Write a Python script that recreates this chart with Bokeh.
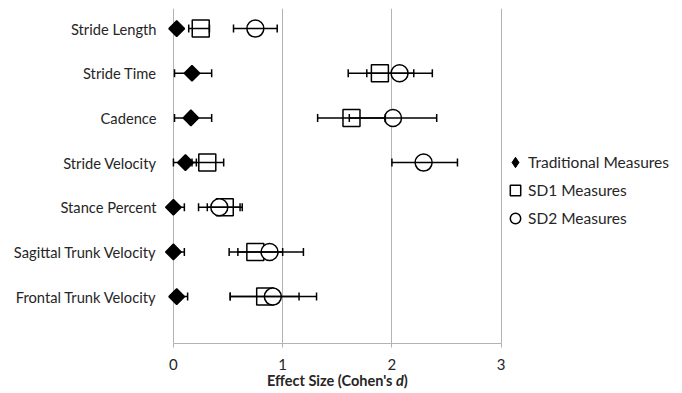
from bokeh.plotting import figure
from bokeh.models import (ColumnDataSource, Whisker, TeeHead, FixedTicker, Legend,
                          LegendItem, Range1d, Div)
from bokeh.layouts import column
from bokeh.embed import file_html
from bokeh.resources import INLINE
import numpy as np

# ---------------- data ----------------
categories = ["Stride Length", "Stride Time", "Cadence", "Stride Velocity",
              "Stance Percent", "Sagittal Trunk Velocity", "Frontal Trunk Velocity"]
trad = [0.03, 0.17, 0.16, 0.11, 0.00, 0.00, 0.03]
trad_lo = [0.00, 0.01, 0.01, 0.00, 0.00, 0.00, 0.00]
trad_hi = [0.06, 0.35, 0.35, 0.21, 0.10, 0.10, 0.13]
sd1 = [0.25, 1.89, 1.63, 0.31, 0.47, 0.75, 0.84]
sd1_lo = [0.14, 1.60, 1.32, 0.17, 0.31, 0.51, 0.52]
sd1_hi = [0.33, 2.20, 1.94, 0.46, 0.63, 1.00, 1.15]
sd2 = [0.75, 2.07, 2.01, 2.29, 0.42, 0.88, 0.91]
sd2_lo = [0.55, 1.77, 1.61, 2.00, 0.23, 0.59, 0.52]
sd2_hi = [0.95, 2.37, 2.41, 2.60, 0.61, 1.19, 1.31]
x_ticks = [0, 1, 2, 3]
series_names = ["Traditional Measures", "SD1 Measures", "SD2 Measures"]
x_title = "Effect Size (Cohen's <i>d</i>)"

FONT = "Lato"
TXT = "#262626"
GRID = "#b3b3b3"

ypos = list(range(len(categories), 0, -1))  # 7..1 top to bottom

p = figure(width=682, height=374, output_backend="svg", toolbar_location=None,
           x_range=Range1d(-0.1, 4.66), y_range=Range1d(-0.05, 7.45),
           min_border_left=162, min_border_right=0, min_border_top=8,
           min_border_bottom=31)
p.outline_line_color = None
p.background_fill_color = "white"

# axes
p.xaxis.ticker = FixedTicker(ticks=x_ticks)
p.xaxis.bounds = (x_ticks[0], x_ticks[-1])
p.xaxis.axis_line_color = GRID
p.xaxis.major_tick_line_color = GRID
p.xaxis.major_tick_out = 4
p.xaxis.major_tick_in = 0
p.xaxis.minor_tick_line_color = None
p.xaxis.major_label_text_font = FONT
p.xaxis.major_label_text_font_size = "15px"
p.xaxis.major_label_text_color = TXT
p.xaxis.major_label_standoff = 11

p.yaxis.ticker = FixedTicker(ticks=ypos)
p.yaxis.major_label_overrides = {y: c for y, c in zip(ypos, categories)}
p.yaxis.axis_line_color = None
p.yaxis.major_tick_line_color = None
p.yaxis.minor_tick_line_color = None
p.yaxis.major_label_text_font = FONT
p.yaxis.major_label_text_font_size = "14.7px"
p.yaxis.major_label_text_color = TXT
p.yaxis.major_label_standoff = 0

p.xgrid.ticker = FixedTicker(ticks=x_ticks)
p.xgrid.grid_line_color = GRID
p.xgrid.grid_line_width = 1
p.ygrid.grid_line_color = None

renderers = []
sources = []
specs = [
    (trad, trad_lo, trad_hi, dict(marker="square", size=11, angle=np.pi / 4,
                                  fill_color="black", line_color="black", line_width=1.5)),
    (sd1, sd1_lo, sd1_hi, dict(marker="square", size=17, fill_color="white",
                               line_color="black", line_width=1.5)),
    (sd2, sd2_lo, sd2_hi, dict(marker="circle", size=17, fill_color="white",
                               line_color="black", line_width=1.5)),
]
for vals, lo, hi, style in specs:
    src = ColumnDataSource(dict(x=vals, y=ypos, lo=lo, hi=hi))
    w = Whisker(source=src, base="y", lower="lo", upper="hi", dimension="width",
                line_color="black", line_width=1.5, level="glyph",
                lower_head=TeeHead(size=8, line_color="black", line_width=1.5),
                upper_head=TeeHead(size=8, line_color="black", line_width=1.5))
    p.add_layout(w)
    r = p.scatter("x", "y", source=src, **style)
    renderers.append(r)
    sources.append(src)

# hidden twin of the Traditional series, used only as its diamond legend key
diamond_key = p.scatter("x", "y", source=sources[0], marker="diamond", size=15,
                        fill_color="black", line_color="black", line_width=1,
                        visible=False)
legend_renderers = [diamond_key, renderers[1], renderers[2]]

legend = Legend(items=[LegendItem(label=n, renderers=[r]) for n, r in zip(series_names, legend_renderers)],
                location=(340, 112), orientation="vertical",
                glyph_width=26, glyph_height=26, spacing=2, padding=0, margin=0,
                label_standoff=0, label_text_font=FONT, label_text_font_size="15.5px",
                label_text_color=TXT, border_line_color=None, background_fill_alpha=0,
                inactive_fill_alpha=0, click_policy="none")
p.add_layout(legend)

title_div = Div(text=f"<span style='margin-left:262px'><b>{x_title}</b></span>",
                width=682, height=19,
                styles={"text-align": "left", "font-family": FONT,
                        "font-size": "14.5px", "line-height": "4px",
                        "color": TXT})

layout = column(p, title_div, spacing=0)
open("out.html", "w").write(file_html(layout, INLINE))
